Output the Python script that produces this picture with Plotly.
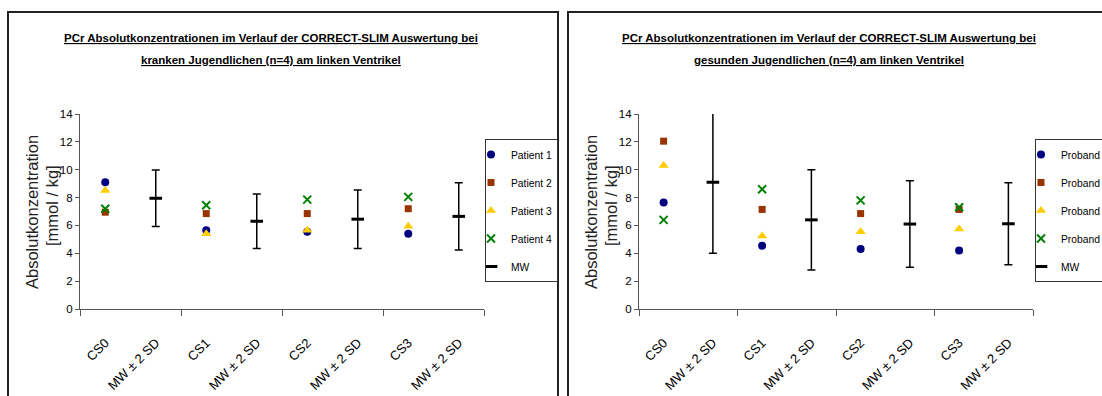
import plotly.graph_objects as go

W, H = 1102, 396

# ---------------- data ----------------
categories = ["CS0", "MW ± 2 SD", "CS1", "MW ± 2 SD", "CS2", "MW ± 2 SD", "CS3", "MW ± 2 SD"]
y_ticks = [0, 2, 4, 6, 8, 10, 12, 14]

# left: kranke Jugendliche
krank_names = ["Patient 1", "Patient 2", "Patient 3", "Patient 4"]
krank_p1 = [9.1, 5.65, 5.55, 5.4]
krank_p2 = [6.95, 6.85, 6.85, 7.2]
krank_p3 = [8.5, 5.4, 5.65, 5.95]
krank_p4 = [7.2, 7.45, 7.85, 8.05]
krank_mw = [7.95, 6.3, 6.45, 6.65]
krank_2sd = [2.03, 1.95, 2.1, 2.42]

# right: gesunde Jugendliche
gesund_names = ["Proband 1", "Proband 2", "Proband 3", "Proband 4"]
gesund_p1 = [7.65, 4.55, 4.3, 4.2]
gesund_p2 = [12.05, 7.15, 6.85, 7.15]
gesund_p3 = [10.3, 5.25, 5.55, 5.75]
gesund_p4 = [6.4, 8.6, 7.8, 7.3]
gesund_mw = [9.1, 6.4, 6.1, 6.12]
gesund_2sd = [5.1, 3.6, 3.1, 2.95]

title_left = ["PCr Absolutkonzentrationen im Verlauf der CORRECT-SLIM Auswertung bei",
              "kranken Jugendlichen (n=4) am linken Ventrikel"]
title_right = ["PCr Absolutkonzentrationen im Verlauf der CORRECT-SLIM Auswertung bei",
               "gesunden Jugendlichen (n=4) am linken Ventrikel"]
y_title_lines = ["Absolutkonzentration", "[mmol / kg]"]
mw_name = "MW"

# ---------------- style ----------------
SANS = "Liberation Sans, Arial, sans-serif"
colors = ["#000080", "#993300", "#FFCC00", "#008000"]
symbols = ["circle", "square", "triangle-up", "x-thin-open"]
sizes = [8, 7, 9, 8]
AXC = "#555555"


def px(x):
    return x / W


def py(y):
    return 1 - y / H


cat_x = list(range(len(categories)))
pat_x = cat_x[0::2]
mw_x = cat_x[1::2]
bounds = [c - 0.5 for c in cat_x[0::2]] + [cat_x[-1] + 0.5]

fig = go.Figure()


def add_panel(xa, ya, legend, names, series, mw, sd2):
    for i, (nm, vals) in enumerate(zip(names, series)):
        mk = dict(symbol=symbols[i], size=sizes[i], color=colors[i])
        if symbols[i].endswith("open"):
            mk["line"] = dict(color=colors[i], width=2)
        else:
            mk["line"] = dict(width=0)
        fig.add_trace(go.Scatter(
            x=pat_x, y=vals, mode="markers", name=nm, marker=mk,
            xaxis=xa, yaxis=ya, legend=legend, legendgroup=legend + nm,
            showlegend=True))
    fig.add_trace(go.Scatter(
        x=mw_x, y=mw, mode="markers", name=mw_name,
        marker=dict(symbol="line-ew", size=9, color="black",
                    line=dict(color="black", width=3)),
        error_y=dict(type="data", array=sd2, visible=True, color="black",
                     thickness=1.5, width=4),
        xaxis=xa, yaxis=ya, legend=legend, legendgroup=legend + "mw"))


add_panel("x", "y", "legend", krank_names,
          [krank_p1, krank_p2, krank_p3, krank_p4], krank_mw, krank_2sd)
add_panel("x2", "y2", "legend2", gesund_names,
          [gesund_p1, gesund_p2, gesund_p3, gesund_p4], gesund_mw, gesund_2sd)

ydom = [py(309), py(114)]
xdom_l = [px(80), px(484)]
xdom_r = [px(639), px(1033)]


def xaxis(dom, anchor):
    return dict(
        domain=dom, anchor=anchor, range=[-0.5, len(categories) - 0.5],
        tickmode="array", tickvals=cat_x, ticktext=categories,
        ticks="outside", ticklen=20, tickcolor="rgba(0,0,0,0)",
        tickangle=-45, tickfont=dict(family=SANS, size=13, color="black"),
        showline=True, linecolor=AXC, linewidth=1.2, showgrid=False,
        zeroline=False, fixedrange=True, automargin=False,
        minor=dict(tickmode="array", tickvals=bounds, ticks="outside",
                   ticklen=6, tickcolor=AXC, tickwidth=1.2, showgrid=False),
    )


def yaxis(anchor):
    return dict(
        domain=ydom, anchor=anchor, range=[0, 14], tickmode="array",
        tickvals=y_ticks, ticks="outside", ticklen=4, tickcolor=AXC,
        tickwidth=1.2, tickfont=dict(family=SANS, size=11.5, color="black"),
        showline=True, linecolor=AXC, linewidth=1.2, showgrid=False,
        zeroline=False, fixedrange=True, automargin=False,
    )


def legend_cfg(x_left):
    return dict(
        x=px(x_left), xanchor="left", y=py(139), yanchor="top",
        bgcolor="white", bordercolor="#333333", borderwidth=1,
        font=dict(family=SANS, size=10.3, color="black"),
        tracegroupgap=9, itemwidth=30, indentation=-15,
    )


annotations = []
for cx, lines in [(271, title_left), (829, title_right)]:
    for line, yy in zip(lines, [38, 60]):
        annotations.append(dict(
            text="<b><u>" + line + "</u></b>", x=px(cx), y=py(yy),
            xref="paper", yref="paper", xanchor="center", yanchor="middle",
            showarrow=False, font=dict(family=SANS, size=11.5, color="black")))

# y axis titles (two lines, rotated)
for ax0 in [0, 559]:
    for line, xx, yy in zip(y_title_lines, [32, 52], [212, 206]):
        annotations.append(dict(
            text=line, x=px(ax0 + xx), y=py(yy), xref="paper", yref="paper",
            xanchor="center", yanchor="middle", textangle=-90,
            showarrow=False, font=dict(family=SANS, size=16.5, color="#222222")))

shapes = [
    dict(type="rect", xref="paper", yref="paper", x0=px(8), x1=px(558),
         y0=py(12), y1=py(410), line=dict(color="#222222", width=2)),
    dict(type="rect", xref="paper", yref="paper", x0=px(568), x1=px(1120),
         y0=py(12), y1=py(410), line=dict(color="#222222", width=2)),
]

fig.update_layout(
    width=W, height=H,
    margin=dict(l=0, r=0, t=0, b=0, pad=0, autoexpand=False),
    paper_bgcolor="white", plot_bgcolor="white",
    xaxis=xaxis(xdom_l, "y"), yaxis=yaxis("x"),
    xaxis2=xaxis(xdom_r, "y2"), yaxis2=yaxis("x2"),
    legend=legend_cfg(485), legend2=legend_cfg(1035),
    annotations=annotations, shapes=shapes, showlegend=True,
)

fig.write_html("out.html")
